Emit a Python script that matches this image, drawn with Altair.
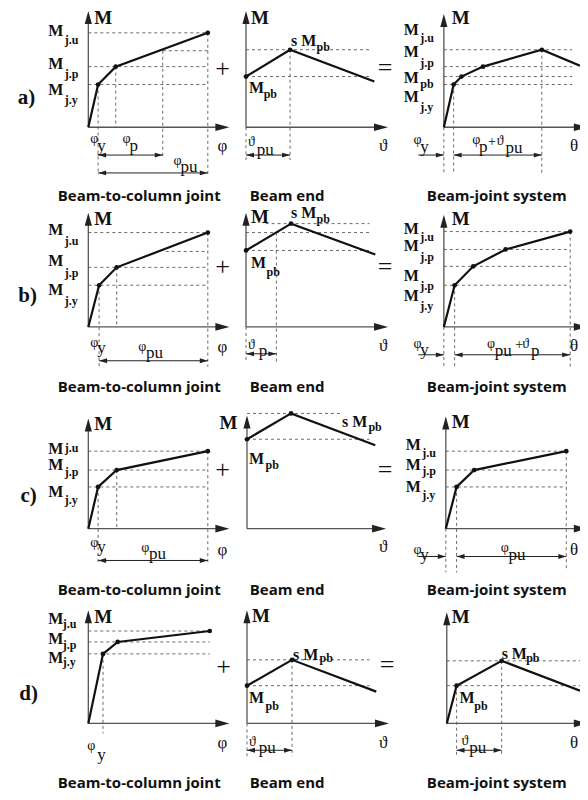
import altair as alt
import pandas as pd

# Frame of the sketch (diagram units, y grows downward)
X_DOMAIN = [4, 588]
Y_DOMAIN = [7, 796]
W, H = 572, 784

# Each panel: origin of its M-axis, local u (rotation, to the right) and v (moment, upward)
# ---------------- row a ----------------
a_joint = dict(origin=(86, 127), tip=(144, 117),
               curve_u=[0, 10, 28, 122], curve_m=[0, 43, 61, 95], dots=[1, 2, 3],
               levels=[(95, 0, 122), (77, 76, 122), (61, 0, 122), (43, 0, 122)],
               drops=[(10, 43, -48), (28, 61, 0), (76, 77, -31), (122, 95, -48)],
               dims=[(-28, 10, 76, "both"), (-46, 10, 122, "both")],
               labels=[("tag", -63, 29, "a)"), ("axm", 6, 110, "M"),
                       ("m", -41, 97, "M"), ("msub", -24, 88, "j.u"),
                       ("m", -41, 64, "M"), ("msub", -24, 54, "j.p"),
                       ("m", -41, 37, "M"), ("msub", -24, 27, "j.y"),
                       ("g", 2, -12, "φ"), ("gsub", 9, -19, "y"),
                       ("g", 35, -12, "φ"), ("gsub", 42, -19, "p"),
                       ("g", 87, -34, "φ"), ("gsub", 94, -40, "pu"),
                       ("gax", 137, -19, "φ"), ("op", 137, 59, "+"),
                       ("cap", 52, -69, "Beam-to-column joint")])
a_beam = dict(origin=(247, 127), tip=(145, 117),
              curve_u=[0, 45, 131], curve_m=[51, 78, 46], dots=[0, 1],
              levels=[(78, 0, 126), (51, 0, 126)],
              drops=[(45, 78, -33), (0, 0, -33)],
              dims=[(-28, 0, 45, "both")],
              labels=[("axm", 5, 110, "M"),
                      ("m", 46, 87, "s M"), ("msub", 72, 81, "pb"),
                      ("m", 3, 39, "M"), ("msub", 18, 33, "pb"),
                      ("g", 2, -15, "ϑ"), ("gsub", 11, -23, "pu"),
                      ("gax", 140, -19, "ϑ"), ("op", 142, 60, "="),
                      ("cap", 42, -69, "Beam end")])
a_system = dict(origin=(449, 127), tip=(147, 114),
                curve_u=[0, 10, 18, 40, 100, 139], curve_m=[0, 43, 51, 61, 78, 62], dots=[1, 2, 3, 4],
                levels=[(78, 0, 131), (61, 0, 131), (51, 0, 131), (43, 0, 131)],
                drops=[(0, 0, -46), (10, 43, -46), (100, 78, -46)],
                dims=[(-28, -26, 0, "right"), (-28, 10, 100, "both")],
                labels=[("axm", 8, 110, "M"),
                        ("m", -41, 98, "M"), ("msub", -24, 90, "j.u"),
                        ("m", -41, 76, "M"), ("msub", -24, 65, "j.p"),
                        ("m", -41, 50, "M"), ("msub", -24, 44, "pb"),
                        ("m", -41, 30, "M"), ("msub", -24, 20, "j.y"),
                        ("g", -31, -13, "φ"), ("gsub", -24, -20, "y"),
                        ("g", 29, -13, "φ"), ("gsub", 36, -20, "p"), ("g", 45, -15, "+"),
                        ("g", 54, -14, "ϑ"), ("gsub", 63, -21, "pu"),
                        ("gax", 133, -19, "θ"), ("cap", 54, -69, "Beam-joint system")])
# ---------------- row b ----------------
b_joint = dict(origin=(86, 328), tip=(144, 115),
               curve_u=[0, 11, 29, 122], curve_m=[0, 42, 60, 95], dots=[1, 2, 3],
               levels=[(95, 0, 122), (76, 79, 122), (60, 0, 122), (42, 0, 122)],
               drops=[(11, 42, -40), (29, 60, 0), (122, 95, -40)],
               dims=[(-34, 11, 122, "both")],
               labels=[("tag", -62, 31, "b)"), ("axm", 6, 109, "M"),
                       ("m", -41, 98, "M"), ("msub", -24, 87, "j.u"),
                       ("m", -41, 66, "M"), ("msub", -24, 54, "j.p"),
                       ("m", -41, 37, "M"), ("msub", -24, 26, "j.y"),
                       ("g", 2, -16, "φ"), ("gsub", 9, -21, "y"),
                       ("g", 51, -20, "φ"), ("gsub", 59, -26, "pu"),
                       ("gax", 137, -20, "φ"), ("op", 137, 60, "+"),
                       ("cap", 52, -60, "Beam-to-column joint")])
b_beam = dict(origin=(247, 328), tip=(145, 115),
              curve_u=[0, 46, 132], curve_m=[77, 104, 73], dots=[0, 1],
              levels=[(104, 20, 126), (95, 0, 126), (77, 0, 126)],
              drops=[(31, 95, -35), (0, 0, -35)],
              dims=[(-27, 0, 31, "both")],
              labels=[("axm", 5, 111, "M"),
                      ("m", 46, 115, "s M"), ("msub", 72, 109, "pb"),
                      ("m", 5, 64, "M"), ("msub", 21, 55, "pb"),
                      ("g", 2, -18, "ϑ"), ("gsub", 13, -24, "p"),
                      ("gax", 140, -19, "ϑ"), ("op", 142, 60, "="),
                      ("cap", 42, -60, "Beam end")])
b_system = dict(origin=(449, 328), tip=(147, 113),
                curve_u=[0, 11, 30, 63, 129], curve_m=[0, 42, 61, 78, 96], dots=[1, 2, 3, 4],
                levels=[(96, 0, 129), (78, 0, 129), (61, 0, 129), (42, 0, 129)],
                drops=[(0, 0, -40), (11, 42, -40), (129, 96, -40)],
                dims=[(-28, -26, 0, "right"), (-28, 11, 129, "both")],
                labels=[("axm", 8, 109, "M"),
                        ("m", -41, 99, "M"), ("msub", -24, 91, "j.u"),
                        ("m", -41, 81, "M"), ("msub", -24, 70, "j.p"),
                        ("m", -41, 51, "M"), ("msub", -24, 41, "j.p"),
                        ("m", -41, 31, "M"), ("msub", -24, 21, "j.y"),
                        ("g", -31, -17, "φ"), ("gsub", -24, -23, "y"),
                        ("g", 44, -17, "φ"), ("gsub", 52, -24, "pu"), ("g", 73, -18, "+"),
                        ("g", 80, -17, "ϑ"), ("gsub", 89, -24, "p"),
                        ("gax", 133, -19, "θ"), ("cap", 54, -60, "Beam-joint system")])
# ---------------- row c ----------------
c_joint = dict(origin=(86, 531), tip=(144, 111),
               curve_u=[0, 10, 29, 122], curve_m=[0, 42, 59, 78], dots=[1, 2, 3],
               levels=[(78, 0, 122), (59, 0, 122), (42, 0, 122)],
               drops=[(10, 42, -36), (29, 59, 0), (122, 78, -36)],
               dims=[(-32, 10, 122, "both")],
               labels=[("tag", -61, 33, "c)"), ("axm", 6, 105, "M"),
                       ("m", -41, 80, "M"), ("msub", -24, 81, "j.u"),
                       ("m", -41, 64, "M"), ("msub", -24, 57, "j.p"),
                       ("m", -41, 37, "M"), ("msub", -24, 29, "j.y"),
                       ("g", 2, -14, "φ"), ("gsub", 9, -18, "y"),
                       ("g", 54, -19, "φ"), ("gsub", 62, -25, "pu"),
                       ("gax", 137, -21, "φ"), ("op", 137, 59, "+"),
                       ("cap", 52, -62, "Beam-to-column joint")])
c_beam = dict(origin=(248, 531), tip=(142, 114),
              curve_u=[0, 45, 131], curve_m=[90, 116, 84], dots=[0, 1],
              levels=[(116, 0, 95), (90, 0, 125)],
              drops=[],
              dims=[],
              labels=[("axm", -28, 106, "M"),
                      ("m", 97, 107, "s M"), ("msub", 124, 102, "pb"),
                      ("m", 2, 70, "M"), ("msub", 19, 64, "pb"),
                      ("gax", 139, -18, "ϑ"), ("op", 141, 59, "="),
                      ("cap", 41, -62, "Beam end")])
c_system = dict(origin=(451, 531), tip=(145, 113),
                curve_u=[0, 11, 29, 123], curve_m=[0, 42, 59, 78], dots=[1, 2, 3],
                levels=[(78, 0, 123), (59, 0, 123), (42, 0, 123)],
                drops=[(0, 0, -44), (11, 42, -44), (123, 78, -40)],
                dims=[(-28, -28, 0, "right"), (-28, 11, 123, "both")],
                labels=[("axm", 6, 107, "M"),
                        ("m", -41, 84, "M"), ("msub", -24, 76, "j.u"),
                        ("m", -41, 64, "M"), ("msub", -24, 58, "j.p"),
                        ("m", -41, 42, "M"), ("msub", -24, 34, "j.y"),
                        ("g", -33, -21, "φ"), ("gsub", -26, -26, "y"),
                        ("g", 56, -19, "φ"), ("gsub", 64, -26, "pu"),
                        ("gax", 131, -21, "θ"), ("cap", 52, -62, "Beam-joint system")])
# ---------------- row d ----------------
d_joint = dict(origin=(86, 727), tip=(144, 114),
               curve_u=[0, 15, 30, 124], curve_m=[0, 70, 82, 93], dots=[1, 2, 3],
               levels=[(93, 0, 124), (82, 0, 124), (70, 0, 124)],
               drops=[(15, 70, -10)],
               dims=[],
               labels=[("tag", -61, 30, "d)"), ("axm", 6, 107, "M"),
                       ("m", -41, 105, "M"), ("msub", -26, 100, "j.u"),
                       ("m", -41, 85, "M"), ("msub", -26, 79, "j.p"),
                       ("m", -41, 66, "M"), ("msub", -26, 62, "j.y"),
                       ("g", -1, -23, "φ"), ("gsub", 9, -32, "y"),
                       ("gax", 137, -20, "φ"), ("op", 138, 57, "+"),
                       ("cap", 52, -60, "Beam-to-column joint")])
d_beam = dict(origin=(248, 727), tip=(145, 114),
              curve_u=[0, 46, 132], curve_m=[38, 64, 32], dots=[0, 1],
              levels=[(64, 0, 125), (38, 0, 125)],
              drops=[(46, 64, -33), (0, 0, -33)],
              dims=[(-27, 0, 46, "both")],
              labels=[("axm", 5, 108, "M"),
                      ("m", 47, 69, "s M"), ("msub", 74, 66, "pb"),
                      ("m", 2, 26, "M"), ("msub", 19, 18, "pb"),
                      ("g", 2, -19, "ϑ"), ("gsub", 12, -25, "pu"),
                      ("gax", 139, -20, "ϑ"), ("op", 143, 59, "="),
                      ("cap", 41, -60, "Beam end")])
d_system = dict(origin=(452, 727), tip=(144, 112),
                curve_u=[0, 10, 56, 136], curve_m=[0, 38, 63, 33], dots=[1, 2],
                levels=[(63, 0, 136), (38, 0, 136)],
                drops=[(10, 38, -33), (56, 63, -33)],
                dims=[(-27, 10, 56, "both")],
                labels=[("axm", 5, 107, "M"),
                        ("m", 56, 70, "s M"), ("msub", 81, 66, "pb"),
                        ("m", 13, 26, "M"), ("msub", 28, 18, "pb"),
                        ("g", 15, -18, "ϑ"), ("gsub", 23, -25, "pu"),
                        ("gax", 130, -20, "θ"), ("cap", 51, -60, "Beam-joint system")])

PANELS = [a_joint, a_beam, a_system, b_joint, b_beam, b_system,
          c_joint, c_beam, c_system, d_joint, d_beam, d_system]

SERIF = "Liberation Serif"
STYLES = {
    "tag": dict(font=SERIF, fontWeight="bold", align="center", fontSize=21),
    "axm": dict(font=SERIF, fontWeight="bold", align="left", fontSize=19),
    "m": dict(font=SERIF, fontWeight="bold", align="left", fontSize=16),
    "msub": dict(font=SERIF, fontWeight="bold", align="left", fontSize=12),
    "g": dict(font=SERIF, fontWeight="normal", align="left", fontSize=14),
    "gsub": dict(font=SERIF, fontWeight="normal", align="left", fontSize=17),
    "gax": dict(font=SERIF, fontWeight="normal", align="center", fontSize=17),
    "op": dict(font=SERIF, fontWeight="normal", align="center", fontSize=26),
    "cap": dict(font="Open Sans", fontWeight="bold", align="center", fontSize=15),
}

curve, dots, dashes, axes, dimlines, heads, texts = [], [], [], [], [], [], []
for pid, p in enumerate(PANELS):
    ox, oy = p["origin"]
    for i, (u, m) in enumerate(zip(p["curve_u"], p["curve_m"])):
        curve.append(dict(pid=pid, i=i, x=ox + u, y=oy - m))
    for i in p["dots"]:
        dots.append(dict(x=ox + p["curve_u"][i], y=oy - p["curve_m"][i]))
    for v, u0, u1 in p["levels"]:
        dashes.append(dict(x=ox + u0, x2=ox + u1, y=oy - v, y2=oy - v))
    for u, v0, v1 in p["drops"]:
        dashes.append(dict(x=ox + u, x2=ox + u, y=oy - v0, y2=oy - v1))
    tu, tv = p["tip"]
    axes.append(dict(x=ox, x2=ox, y=oy, y2=oy - tv + 6))
    axes.append(dict(x=ox, x2=ox + tu - 6, y=oy, y2=oy))
    heads.append(dict(kind="up", x=ox, y=oy - tv))
    heads.append(dict(kind="right", x=ox + tu, y=oy))
    for v, u0, u1, kind in p["dims"]:
        dimlines.append(dict(x=ox + u0, x2=ox + u1, y=oy - v, y2=oy - v))
        heads.append(dict(kind="sright", x=ox + u1, y=oy - v))
        if kind == "both":
            heads.append(dict(kind="sleft", x=ox + u0, y=oy - v))
    for style, u, v, t in p["labels"]:
        texts.append(dict(style=style, x=ox + u, y=oy - v, text=t))

curve_df = pd.DataFrame(curve)
dots_df = pd.DataFrame(dots)
dash_df = pd.DataFrame(dashes)
axes_df = pd.DataFrame(axes)
dim_df = pd.DataFrame(dimlines)
heads_df = pd.DataFrame(heads)
text_df = pd.DataFrame(texts)

XS = alt.Scale(domain=X_DOMAIN, nice=False, zero=False)
YS = alt.Scale(domain=Y_DOMAIN, nice=False, zero=False, reverse=True)


def X(f="x"):
    return alt.X(f"{f}:Q", scale=XS, axis=None)


def Y(f="y"):
    return alt.Y(f"{f}:Q", scale=YS, axis=None)


layers = []
layers.append(alt.Chart(dash_df).mark_rule(color="#6a6a6a", strokeWidth=1, strokeDash=[3, 3]).encode(
    x=X(), y=Y(), x2="x2:Q", y2="y2:Q"))
layers.append(alt.Chart(axes_df).mark_rule(color="#555555", strokeWidth=1.3).encode(
    x=X(), y=Y(), x2="x2:Q", y2="y2:Q"))
layers.append(alt.Chart(dim_df).mark_rule(color="#222222", strokeWidth=1).encode(
    x=X(), y=Y(), x2="x2:Q", y2="y2:Q"))
layers.append(alt.Chart(curve_df).mark_line(color="#111111", strokeWidth=2.2).encode(
    x=X(), y=Y(), detail="pid:N", order="i:Q"))
layers.append(alt.Chart(dots_df).mark_circle(color="#111111", size=22, opacity=1).encode(x=X(), y=Y()))

HEAD_SHAPES = {
    "up": ("M0,0L0.55,2L-0.55,2Z", 169, "#222222"),
    "right": ("M0,0L-2,-0.55L-2,0.55Z", 196, "#222222"),
    "sright": ("M0,0L-2,-0.6L-2,0.6Z", 64, "#222222"),
    "sleft": ("M0,0L2,-0.6L2,0.6Z", 64, "#222222"),
}
for kind, (path, size, col) in HEAD_SHAPES.items():
    sub = heads_df[heads_df["kind"] == kind]
    layers.append(alt.Chart(sub).mark_point(shape=path, size=size, filled=True, color=col,
                                            opacity=1, strokeWidth=0).encode(x=X(), y=Y()))

for style, props in STYLES.items():
    sub = text_df[text_df["style"] == style]
    layers.append(alt.Chart(sub).mark_text(baseline="middle", color="#111111", **props).encode(
        x=X(), y=Y(), text="text:N"))

chart = alt.layer(*layers).properties(
    width=W, height=H,
    autosize=alt.AutoSizeParams(type="none"),
    padding=0,
    background="white",
).configure_view(strokeWidth=0)

chart.save("out.html", embed_options={"renderer": "svg", "actions": False})
